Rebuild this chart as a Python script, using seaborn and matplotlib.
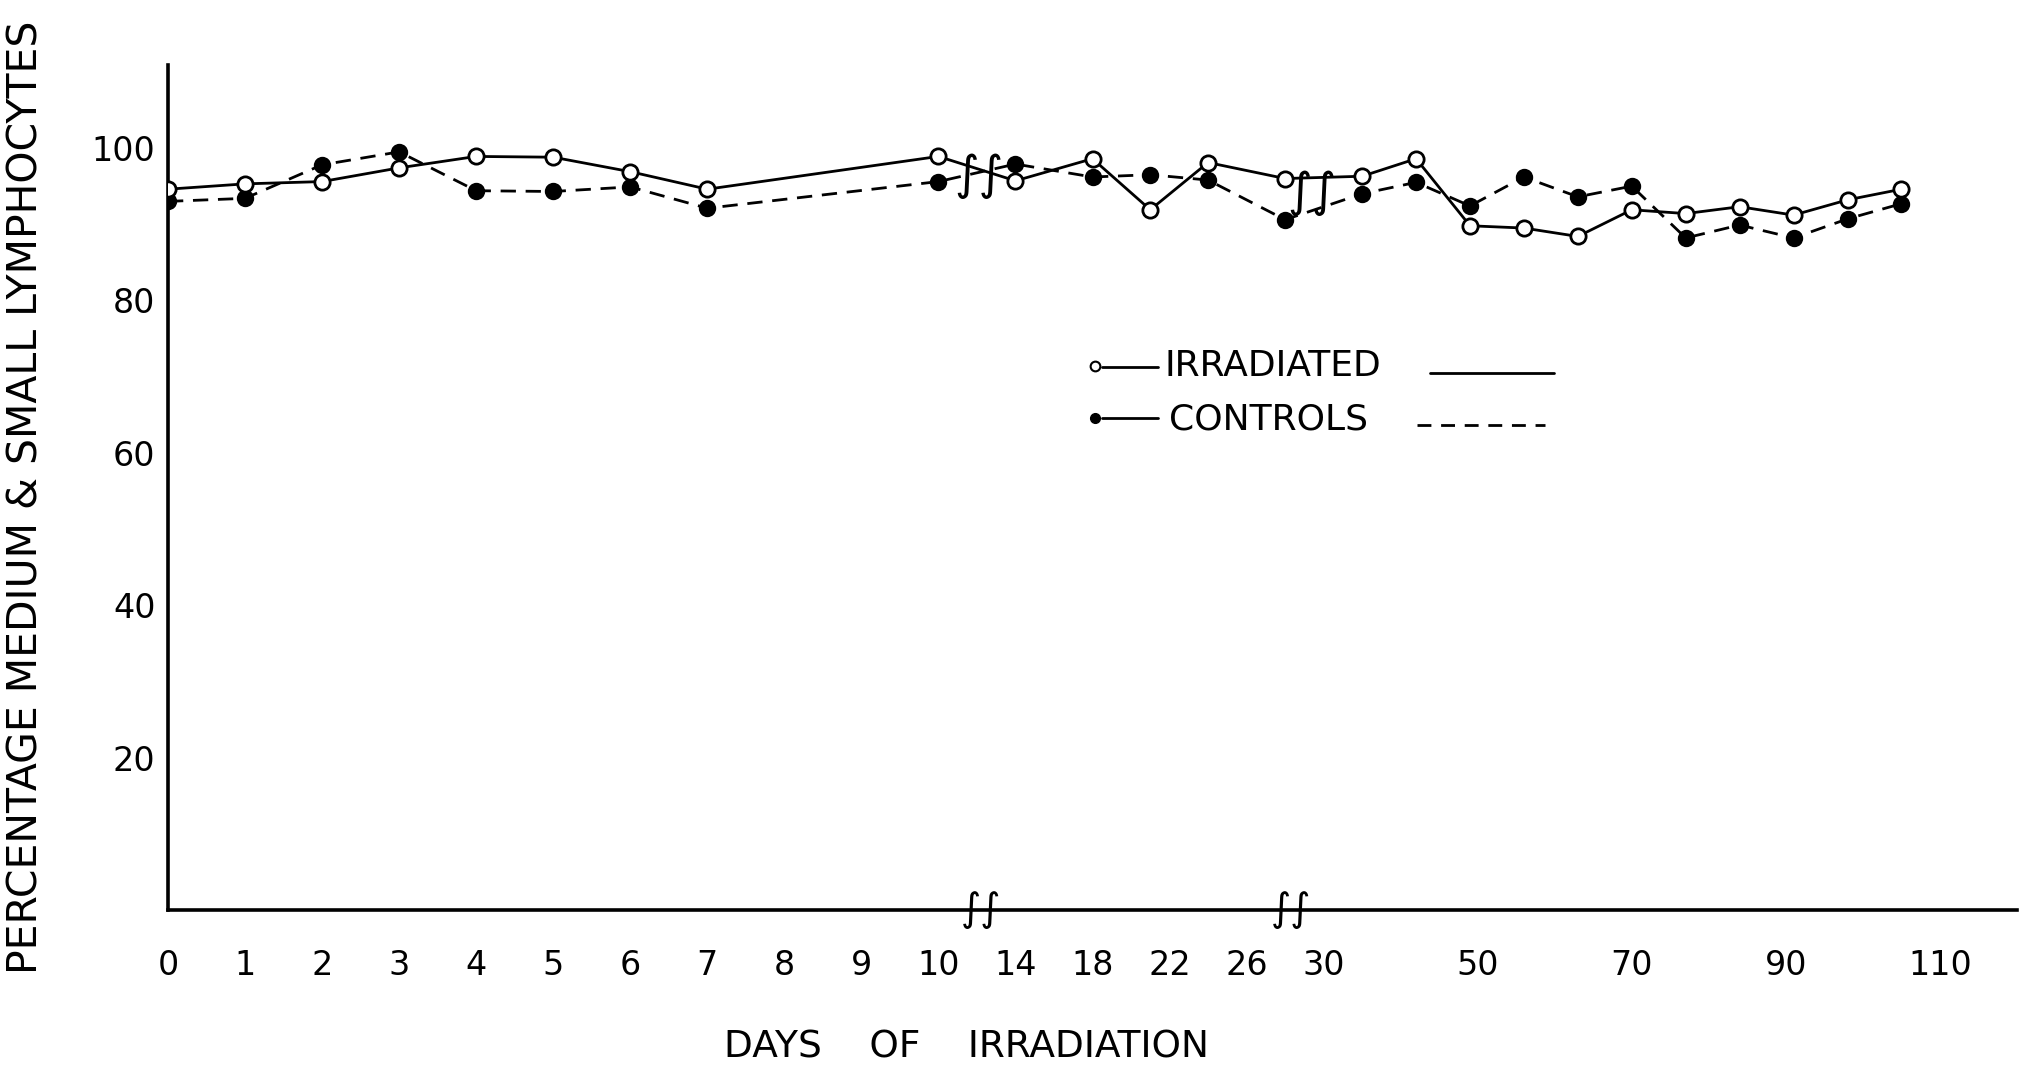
import numpy as np
import pandas as pd
import matplotlib
matplotlib.use("Agg")
import matplotlib.pyplot as plt
from matplotlib.lines import Line2D
import seaborn as sns

# ---------------- data ----------------
days = [0, 1, 2, 3, 4, 5, 6, 7, 10, 14, 18, 21, 24, 28,
        35, 42, 49, 56, 63, 70, 77, 84, 91, 98, 105]
irradiated = [94.6, 95.3, 95.6, 97.4, 98.9, 98.8, 96.9, 94.6, 98.9, 95.7, 98.6, 91.9, 98.1, 96.0,
              96.3, 98.6, 89.8, 89.5, 88.4, 91.9, 91.4, 92.3, 91.2, 93.2, 94.6]
controls = [93.0, 93.4, 97.8, 99.5, 94.4, 94.3, 94.9, 92.1, 95.6, 97.9, 96.2, 96.5, 95.8, 90.6,
            94.0, 95.5, 92.4, 96.2, 93.6, 95.0, 88.2, 89.9, 88.2, 90.7, 92.7]

x_tick_days = [0, 1, 2, 3, 4, 5, 6, 7, 8, 9, 10, 14, 18, 22, 26,
               30, 40, 50, 60, 70, 80, 90, 100, 110]
x_tick_labels = ["0", "1", "2", "3", "4", "5", "6", "7", "8", "9", "10", "14", "18", "22", "26",
                 "30", "", "50", "", "70", "", "90", "", "110"]
y_ticks = [10, 20, 30, 40, 50, 60, 70, 80, 90, 100]
y_tick_labels = ["", "20", "", "40", "", "60", "", "80", "", "100"]

df = pd.DataFrame({"days": days, "irradiated": irradiated, "controls": controls})

# ---------------- style ----------------
sns.set_theme(style="white")
plt.rcParams["font.family"] = ["DejaVu Sans"]

W, H = 2039, 1069
fig = plt.figure(figsize=(W / 100, H / 100), dpi=100)
fig.patch.set_facecolor("white")


def fx(x):
    return x / W


def fy(y):
    return 1 - y / H


ax = fig.add_axes([fx(168), fy(910), fx(2017) - fx(168), fy(65) - fy(910)])
ax.set_facecolor("white")


# broken (piecewise linear) day axis
def fwd(d):
    d = np.asarray(d, dtype=float)
    return np.where(d <= 10, d, np.where(d <= 30, 10 + (d - 10) / 4.0, 15 + (d - 30) / 10.0))


def inv(p):
    p = np.asarray(p, dtype=float)
    return np.where(p <= 10, p, np.where(p <= 15, 10 + (p - 10) * 4.0, 30 + (p - 15) * 10.0))


ax.set_xscale("function", functions=(fwd, inv))

sns.lineplot(data=df, x="days", y="controls", ax=ax, color="black", linewidth=2.0,
             linestyle=(0, (5.5, 3.5)), marker="o", markersize=11,
             markerfacecolor="black", markeredgecolor="black", markeredgewidth=1.5,
             zorder=3)
sns.lineplot(data=df, x="days", y="irradiated", ax=ax, color="black", linewidth=2.0,
             marker="o", markersize=11, markerfacecolor="white",
             markeredgecolor="black", markeredgewidth=2.0, zorder=4)

ax.set_xlim(0, 120)
ax.set_ylim(0, 110.9)

for s in ["top", "right"]:
    ax.spines[s].set_visible(False)
for s in ["left", "bottom"]:
    ax.spines[s].set_color("black")
    ax.spines[s].set_linewidth(2.6)

ax.set_xticks(x_tick_days)
ax.set_xticklabels(x_tick_labels)
ax.set_yticks(y_ticks)
ax.set_yticklabels(y_tick_labels)
ax.minorticks_off()
ax.tick_params(axis="x", direction="in", length=13, width=2.2, color="black",
               labelsize=24, pad=28, labelcolor="black")
ax.tick_params(axis="y", direction="in", length=13, width=2.2, color="black",
               labelsize=24, pad=9, labelcolor="black")

# axis labels
ax.set_xlabel("DAYS    OF    IRRADIATION", fontsize=27, color="black")
ax.xaxis.set_label_coords((966 - 168) / (2017 - 168), (910 - 1030) / (910 - 65))
ax.xaxis.label.set_va("top")
ax.set_ylabel("PERCENTAGE MEDIUM & SMALL LYMPHOCYTES", fontsize=29.5, color="black")
ax.yaxis.label.set_va("center")
ax.yaxis.label.set_ha("center")
ax.yaxis.set_label_coords((27 - 168) / (2017 - 168), (910 - 497) / (910 - 65))

# break marks on the data lines and on the axis
ax.text(12.1, 96.3, "\u222b\u222b", fontsize=34, color="black", ha="center",
        va="center", zorder=6)
ax.text(29.4, 94.1, "\u222b\u222b", fontsize=34, color="black", ha="center",
        va="center", zorder=6)
ax.text(12.2, 0, "\u222b\u222b", fontsize=28, color="black", ha="center",
        va="center", zorder=6, clip_on=False)
ax.text(28.3, 0, "\u222b\u222b", fontsize=28, color="black", ha="center",
        va="center", zorder=6, clip_on=False)

# legend (drawn as in the original figure)
fig.add_artist(Line2D([fx(1095)], [fy(366)], marker="o", markersize=7,
                      markerfacecolor="white", markeredgecolor="black",
                      markeredgewidth=1.5, transform=fig.transFigure))
fig.add_artist(Line2D([fx(1102), fx(1158)], [fy(367), fy(367)], color="black",
                      linewidth=2, transform=fig.transFigure))
fig.text(fx(1165), fy(366), "IRRADIATED", fontsize=26, color="black",
         ha="left", va="center")
fig.add_artist(Line2D([fx(1430), fx(1554)], [fy(373), fy(373)], color="black",
                      linewidth=2, transform=fig.transFigure))

fig.add_artist(Line2D([fx(1095)], [fy(418)], marker="o", markersize=7,
                      markerfacecolor="black", markeredgecolor="black",
                      transform=fig.transFigure))
fig.add_artist(Line2D([fx(1102), fx(1158)], [fy(418), fy(418)], color="black",
                      linewidth=2, transform=fig.transFigure))
fig.text(fx(1169), fy(419), "CONTROLS", fontsize=26, color="black",
         ha="left", va="center")
fig.add_artist(Line2D([fx(1417), fx(1545)], [fy(425), fy(425)], color="black",
                      linewidth=2, linestyle=(0, (5, 3.5)), transform=fig.transFigure))

fig.savefig("out.png", dpi=100, facecolor="white")
